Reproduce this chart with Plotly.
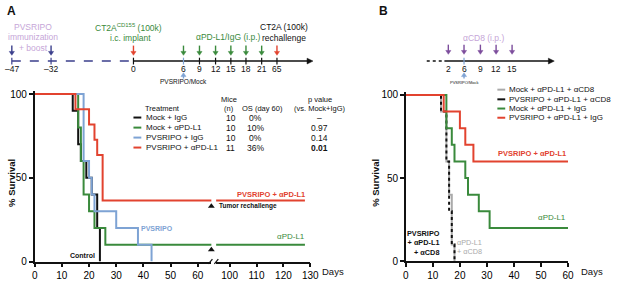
import plotly.graph_objects as go

W, H = 628, 283
FONT = "Liberation Sans, Arial, Helvetica, sans-serif"

# ---------------- data: panel A ----------------
a_treatments = ["Mock + IgG", "Mock + αPD-L1", "PVSRIPO + IgG", "PVSRIPO + αPD-L1"]
a_mice = [10, 10, 10, 11]
a_os60 = ["0%", "10%", "0%", "36%"]
a_pvalue = ["–", "0.97", "0.14", "0.01"]

a_mock_igg_days = [0, 14, 16, 17, 19, 21, 23, 24]
a_mock_igg_surv = [100, 90, 70, 60, 50, 40, 20, 0]
a_mock_pdl1_days = [0, 16, 17, 18, 20, 22, 26, 128]
a_mock_pdl1_surv = [100, 80, 60, 40, 30, 20, 10, 10]
a_pvs_igg_days = [0, 18, 20, 21, 22, 30, 38, 43]
a_pvs_igg_surv = [100, 60, 50, 40, 30, 20, 10, 0]
a_pvs_pdl1_days = [0, 15, 20, 22, 23, 25, 128]
a_pvs_pdl1_surv = [100, 90.9, 81.8, 72.7, 63.6, 36.4, 36.4]

a_rechallenge_day = 65
a_rechallenge_levels = [33, 7]

a_x_ticks_left = [0, 10, 20, 30, 40, 50, 60]
a_x_ticks_right = [100, 110, 120, 130]
y_ticks = [0, 50, 100]

a_timeline_labels = ["–47", "–32", "0", "6", "9", "12", "15", "18", "21", "65"]

# ---------------- data: panel B ----------------
b_treatments = ["Mock + αPD-L1 + αCD8", "PVSRIPO + αPD-L1 + αCD8",
                "Mock + αPD-L1 + IgG", "PVSRIPO + αPD-L1 + IgG"]
b_mock_cd8_days = [0, 13, 15, 16, 17, 18]
b_mock_cd8_surv = [100, 90, 60, 40, 10, 0]
b_pvs_cd8_days = [0, 13, 15, 16, 17, 18]
b_pvs_cd8_surv = [100, 90, 60, 30, 10, 0]
b_mock_igg_days = [0, 15, 17, 18, 22, 23, 27, 31, 60]
b_mock_igg_surv = [100, 80, 70, 60, 50, 40, 30, 20, 20]
b_pvs_igg_days = [0, 14, 20, 22, 25, 60]
b_pvs_igg_surv = [100, 90, 80, 70, 60, 60]
b_x_ticks = [0, 10, 20, 30, 40, 50, 60]
b_timeline_labels = ["2", "6", "9", "12", "15"]

# ---------------- colours ----------------
BLACK = "#111111"
GREEN = "#3a8a3c"
BLUE = "#7ea3d4"
RED = "#e2432f"
GRAY = "#aaaaaa"
LILAC = "#c6a6d8"
NAVY = "#3b3f8c"
PURPLE = "#7c4d9c"

a_colors = [BLACK, GREEN, BLUE, RED]
b_colors = [GRAY, BLACK, GREEN, RED]


def px(x):
    return x / W


def py(y):
    return 1 - y / H


fig = go.Figure()

a_series = [(a_mock_igg_days, a_mock_igg_surv), (a_mock_pdl1_days, a_mock_pdl1_surv),
            (a_pvs_igg_days, a_pvs_igg_surv), (a_pvs_pdl1_days, a_pvs_pdl1_surv)]
for (d, s), name, col in zip(a_series, a_treatments, a_colors):
    for xa in ("x", "x2"):
        fig.add_trace(go.Scatter(x=d, y=s, mode="lines", line_shape="hv", name=name,
                                 line=dict(color=col, width=2), xaxis=xa, yaxis="y",
                                 showlegend=False, hoverinfo="skip"))

fig.add_trace(go.Scatter(x=[a_rechallenge_day] * len(a_rechallenge_levels), y=a_rechallenge_levels,
                         mode="markers", marker=dict(symbol="triangle-up", size=6, color=BLACK),
                         xaxis="x", yaxis="y", cliponaxis=False, showlegend=False, hoverinfo="skip"))

b_series = [(b_mock_cd8_days, b_mock_cd8_surv), (b_pvs_cd8_days, b_pvs_cd8_surv),
            (b_mock_igg_days, b_mock_igg_surv), (b_pvs_igg_days, b_pvs_igg_surv)]
b_dash = ["solid", "dot", "solid", "solid"]
for (d, s), name, col, dash in zip(b_series, b_treatments, b_colors, b_dash):
    fig.add_trace(go.Scatter(x=d, y=s, mode="lines", line_shape="hv", name=name,
                             line=dict(color=col, width=2, dash=dash), xaxis="x3", yaxis="y2",
                             showlegend=False, hoverinfo="skip"))

axis_common = dict(showgrid=False, zeroline=False, showline=True, linecolor=BLACK, linewidth=1.5,
                   ticks="outside", ticklen=4, tickwidth=1.5, tickcolor=BLACK,
                   tickfont=dict(size=10, color="#000000", family=FONT), fixedrange=True)

fig.update_layout(
    width=W, height=H, margin=dict(l=0, r=0, t=0, b=0),
    paper_bgcolor="white", plot_bgcolor="white",
    font=dict(family=FONT, color=BLACK),
    xaxis=dict(domain=[px(32.3), px(212.4)], range=[0, 65], anchor="y",
               tickvals=a_x_ticks_left, **axis_common),
    xaxis2=dict(domain=[px(217.3), px(313.3)], range=[95, 130], anchor="y",
                tickvals=a_x_ticks_right, **axis_common),
    yaxis=dict(domain=[py(267), py(91.4)], range=[0, 101.5], anchor="x",
               tickvals=y_ticks, **axis_common),
    xaxis3=dict(domain=[px(410.7), px(576)], range=[0, 60], anchor="y2",
                tickvals=b_x_ticks, **axis_common),
    yaxis2=dict(domain=[py(266.7), py(92.4)], range=[0, 101.5], anchor="x3",
                tickvals=y_ticks, **axis_common),
)

ann = []
shapes = []


def txt(x, y, s, size=8, color=BLACK, bold=False, xanchor="center", align="center", angle=0):
    ann.append(dict(x=px(x), y=py(y), xref="paper", yref="paper",
                    text=f"<b>{s}</b>" if bold else s, showarrow=False, textangle=angle,
                    font=dict(size=size, color=color, family=FONT), align=align,
                    xanchor=xanchor, yanchor="middle"))


def line(x0, y0, x1, y1, color=BLACK, width=1.5, dash="solid"):
    shapes.append(dict(type="line", xref="paper", yref="paper", x0=px(x0), y0=py(y0),
                       x1=px(x1), y1=py(y1), line=dict(color=color, width=width, dash=dash)))


def tri(points, color):
    path = "M " + " L ".join(f"{px(a):.5f},{py(b):.5f}" for a, b in points) + " Z"
    shapes.append(dict(type="path", xref="paper", yref="paper", path=path,
                       fillcolor=color, line=dict(color=color, width=0.5)))


def varrow(x, y_tip, length, color, up=False, width=1.4):
    s = 1 if not up else -1   # down arrow: tail above tip
    line(x, y_tip - s * length, x, y_tip - s * 3, color=color, width=width)
    tri([(x - 2.6, y_tip - s * 4), (x + 2.6, y_tip - s * 4), (x, y_tip)], color)


def harrow(x_tip, y, color=BLACK):
    tri([(x_tip - 6, y - 3), (x_tip - 6, y + 3), (x_tip, y)], color)


# panel letters
txt(9, 8, "A", size=12, bold=True)
txt(388, 8, "B", size=12, bold=True)

# ---------------- timeline A ----------------
tl_a_x = [9, 49, 133, 184, 200.3, 216.7, 232.3, 247.7, 263.7, 279.3]
TLY = 60
line(9, TLY, 133, TLY, color=NAVY, width=1.5, dash="dash")
line(133, TLY, 311, TLY, color=BLACK, width=1.5)
harrow(316, TLY)
for xx, lab in zip(tl_a_x, a_timeline_labels):
    line(xx, TLY - 3.5, xx, TLY + 3.5, color=BLUE if lab == "6" else (NAVY if xx < 100 else BLACK), width=1.2)
    txt(xx, 68.5, lab, size=8.5)
arrow_cols = [NAVY, NAVY, RED, GREEN, GREEN, GREEN, GREEN, GREEN, GREEN, RED]
for xx, c in zip(tl_a_x, arrow_cols):
    varrow(xx, 54, 10, c)
varrow(184, 72, 6, BLUE, up=True)
txt(184, 81, "PVSRIPO/Mock", size=6.5)
txt(31, 25, "PVSRIPO", size=8.5, color=LILAC)
txt(31, 35.5, "immunization", size=8.5, color=LILAC)
txt(31, 46, "+ boost", size=8.5, color=LILAC)
txt(128, 25, "CT2A<sup>CD155</sup> (100k)", size=8.5, color=GREEN)
txt(130, 36, "i.c. implant", size=8.5, color=GREEN)
txt(230, 35, "αPD-L1/IgG (i.p.)", size=8.5, color=GREEN)
txt(286, 25, "CT2A (100k)", size=8.5)
txt(286, 36, "rechallenge", size=8.5)

# ---------------- timeline B ----------------
tl_b_x = [454, 470, 486.7, 502.7, 519]
line(432, TLY, 450, TLY, color=BLACK, width=1.5, dash="dot")
line(450, TLY, 557, TLY, color=BLACK, width=1.5)
harrow(562, TLY)
for xx, lab in zip(tl_b_x, b_timeline_labels):
    if lab == "6":
        line(xx, TLY - 3.5, xx, TLY + 3.5, color=BLUE, width=1.2)
    txt(xx, 68.5, lab, size=8.5)
    varrow(xx, 53, 10, PURPLE)
varrow(470, 72, 6, BLUE, up=True)
txt(470, 82, "PVSRIPO/Mock", size=4)
txt(490, 36, "αCD8 (i.p.)", size=8.5, color=LILAC)

# ---------------- panel A table ----------------
txt(143, 108.5, "Treatment", size=7.5, xanchor="left")
txt(230, 99.5, "Mice", size=7.5)
txt(230, 108.5, "(n)", size=7.5)
txt(265, 108.5, "OS (day 60)", size=7.5)
txt(323, 99.5, "p value", size=7.5)
txt(323, 108.5, "(vs. Mock+IgG)", size=7.5)
row_y = [118.3, 128.7, 139, 149.3]
for i, ry in enumerate(row_y):
    line(133, ry, 141, ry, color=a_colors[i], width=2)
    txt(143.5, ry, a_treatments[i], size=8, xanchor="left")
    txt(232, ry, str(a_mice[i]), size=8.5)
    txt(257, ry, a_os60[i], size=8.5)
    txt(323, ry, a_pvalue[i], size=8.5, bold=(a_pvalue[i] == "0.01"))

# ---------------- panel A plot labels ----------------
txt(8, 186, "% Survival", size=9.5, bold=True, angle=-90)
txt(323, 277.5, "Days", size=9.5, xanchor="left")
txt(310, 197.7, "PVSRIPO + αPD-L1", size=7.5, color=RED, bold=True, xanchor="right")
txt(310, 241, "αPD-L1", size=8, color=GREEN, xanchor="right")
txt(218.5, 210, "Tumor rechallenge", size=6.5, bold=True, xanchor="left")
txt(139, 233, "PVSRIPO", size=7, color=BLUE, bold=True, xanchor="left")
txt(96, 261, "Control", size=7, bold=True, xanchor="right")
# axis break marks
line(209.5, 269.5, 213.5, 264.5, width=1.2)
line(215.5, 269.5, 219.5, 264.5, width=1.2)

# ---------------- panel B legend & labels ----------------
b_row_y = [89.5, 99.5, 109, 118.5]
for i, ry in enumerate(b_row_y):
    line(504, ry, 512, ry, color=b_colors[i], width=2)
    txt(514, ry, b_treatments[i], size=8, xanchor="left")
txt(379, 186, "% Survival", size=9.5, bold=True, angle=-90)
txt(587, 277.5, "Days", size=9.5, xanchor="left")
txt(576, 155, "PVSRIPO + αPD-L1", size=7.5, color=RED, bold=True, xanchor="right")
txt(576, 222, "αPD-L1", size=8, color=GREEN, xanchor="right")
txt(448, 248.3, "PVSRIPO<br>+ αPD-L1<br>+ αCD8", size=7.3, bold=True, xanchor="right", align="right")
txt(461, 252.5, "αPD-L1<br>+ αCD8", size=7.3, color=GRAY, xanchor="left", align="left")

fig.update_layout(annotations=ann, shapes=shapes)
fig.write_html("out.html", config={"displayModeBar": False},
               post_script="document.body.style.margin='0px';document.body.style.overflow='hidden';")
